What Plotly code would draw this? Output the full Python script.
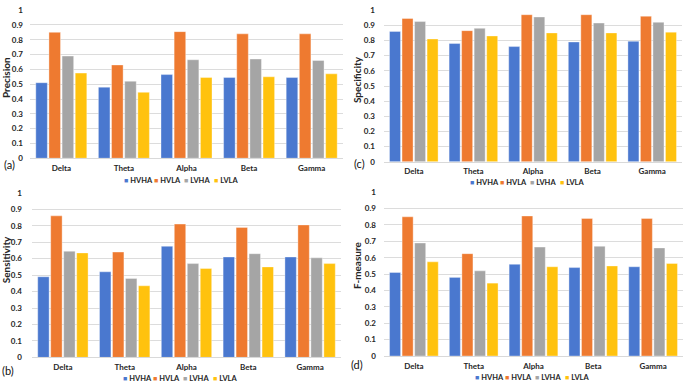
import plotly.graph_objects as go

W, H = 685, 388

categories = ["Delta", "Theta", "Alpha", "Beta", "Gamma"]
series_names = ["HVHA", "HVLA", "LVHA", "LVLA"]
series_colors = ["#4A78CF", "#EE7A30", "#A5A5A5", "#FFC20E"]
y_ticks = [0, 0.1, 0.2, 0.3, 0.4, 0.5, 0.6, 0.7, 0.8, 0.9, 1]
y_tick_labels = ["0", "0.1", "0.2", "0.3", "0.4", "0.5", "0.6", "0.7", "0.8", "0.9", "1"]

# values per metric: one list per series (HVHA, HVLA, LVHA, LVLA), across categories
precision_hvha = [0.51, 0.48, 0.565, 0.545, 0.545]
precision_hvla = [0.85, 0.63, 0.855, 0.84, 0.84]
precision_lvha = [0.69, 0.52, 0.665, 0.67, 0.66]
precision_lvla = [0.575, 0.445, 0.545, 0.55, 0.57]

specificity_hvha = [0.86, 0.78, 0.76, 0.79, 0.795]
specificity_hvla = [0.945, 0.865, 0.97, 0.97, 0.96]
specificity_lvha = [0.925, 0.88, 0.955, 0.915, 0.92]
specificity_lvla = [0.81, 0.83, 0.85, 0.85, 0.855]

sensitivity_hvha = [0.49, 0.52, 0.675, 0.61, 0.61]
sensitivity_hvla = [0.86, 0.64, 0.81, 0.79, 0.805]
sensitivity_lvha = [0.645, 0.48, 0.57, 0.63, 0.605]
sensitivity_lvla = [0.635, 0.435, 0.54, 0.55, 0.57]

fmeasure_hvha = [0.51, 0.48, 0.56, 0.54, 0.545]
fmeasure_hvla = [0.85, 0.625, 0.855, 0.84, 0.84]
fmeasure_lvha = [0.69, 0.52, 0.665, 0.67, 0.66]
fmeasure_lvla = [0.575, 0.445, 0.545, 0.55, 0.565]

FONT = "Lato"
TXT = "#262626"


def px_x(x):
    return x / W


def px_y(y):
    return 1 - y / H


panels = [
    dict(name="Precision", tag="(a)", data=[precision_hvha, precision_hvla, precision_lvha, precision_lvla],
         xdom=(30, 343), ydom=(5.3, 157.3), title_pos=(6, 75), tag_pos=(9, 164),
         leg_center=(180, 180), ystand=6),
    dict(name="Specificity", tag="(c)", data=[specificity_hvha, specificity_hvla, specificity_lvha, specificity_lvla],
         xdom=(384, 682), ydom=(5.3, 161), title_pos=(357, 77), tag_pos=(359, 163),
         leg_center=(526, 182), ystand=8),
    dict(name="Sensitivity", tag="(b)", data=[sensitivity_hvha, sensitivity_hvla, sensitivity_lvha, sensitivity_lvla],
         xdom=(32, 341), ydom=(192.8, 361.7), title_pos=(6, 262), tag_pos=(8, 375),
         leg_center=(179, 383), ystand=9),
    dict(name="F-measure", tag="(d)", data=[fmeasure_hvha, fmeasure_hvla, fmeasure_lvha, fmeasure_lvla],
         xdom=(384, 683), ydom=(192.2, 360.3), title_pos=(357, 267), tag_pos=(357, 369),
         leg_center=(531, 382.5), ystand=7),
]

fig = go.Figure()
annotations = []
layout_axes = {}

for i, p in enumerate(panels):
    n = "" if i == 0 else str(i + 1)
    xa, ya = "x" + n, "y" + n
    for s, (sname, col) in enumerate(zip(series_names, series_colors)):
        fig.add_trace(go.Bar(
            x=categories, y=p["data"][s], name=sname, xaxis=xa, yaxis=ya,
            marker=dict(color=col, line=dict(color="rgba(255,255,255,0.45)", width=0.8)),
            showlegend=False,
        ))
    layout_axes["xaxis" + n] = dict(
        domain=[px_x(p["xdom"][0]), px_x(p["xdom"][1])], anchor=ya,
        showgrid=False, zeroline=False, showline=True, linecolor="#D9D9D9", linewidth=1,
        ticks="", ticklabelstandoff=2,
        tickfont=dict(family=FONT, size=8, color=TXT, weight="bold"),
        fixedrange=True,
    )
    layout_axes["yaxis" + n] = dict(
        domain=[px_y(p["ydom"][1]), px_y(p["ydom"][0])], anchor=xa,
        range=[0, 1], tickvals=y_ticks, ticktext=y_tick_labels,
        showgrid=True, gridcolor="#DCDCDC", gridwidth=1, zeroline=False, showline=False,
        ticks="", ticklabelstandoff=p["ystand"],
        tickfont=dict(family=FONT, size=8, color=TXT, weight="bold"),
        fixedrange=True,
    )
    # axis title
    annotations.append(dict(
        text="<b>" + p["name"] + "</b>", x=px_x(p["title_pos"][0]), y=px_y(p["title_pos"][1]),
        xref="paper", yref="paper", showarrow=False, textangle=-90,
        font=dict(family=FONT, size=10, color=TXT), xanchor="center", yanchor="middle",
    ))
    # panel tag
    annotations.append(dict(
        text=p["tag"], x=px_x(p["tag_pos"][0]), y=px_y(p["tag_pos"][1]),
        xref="paper", yref="paper", showarrow=False,
        font=dict(family=FONT, size=11, color="#111111"), xanchor="center", yanchor="middle",
    ))
    # legend
    cx, cy = p["leg_center"]
    step = 30
    start = cx - 2 * step + 2
    for s, (sname, col) in enumerate(zip(series_names, series_colors)):
        annotations.append(dict(
            text=f"<span style='color:{col};font-size:7px'>■</span> <b>{sname}</b>",
            x=px_x(start + s * step), y=px_y(cy), xref="paper", yref="paper",
            showarrow=False, xanchor="left", yanchor="middle",
            font=dict(family=FONT, size=7.5, color=TXT),
        ))

fig.update_layout(
    width=W, height=H, margin=dict(l=0, r=0, t=0, b=0),
    paper_bgcolor="white", plot_bgcolor="white",
    barmode="group", bargap=0.16, bargroupgap=0.12,
    showlegend=False, annotations=annotations, **layout_axes,
)

fig.write_html(
    "out.html",
    config={"displayModeBar": False, "staticPlot": True},
    post_script="document.body.style.margin='0';document.body.style.padding='0';",
)
